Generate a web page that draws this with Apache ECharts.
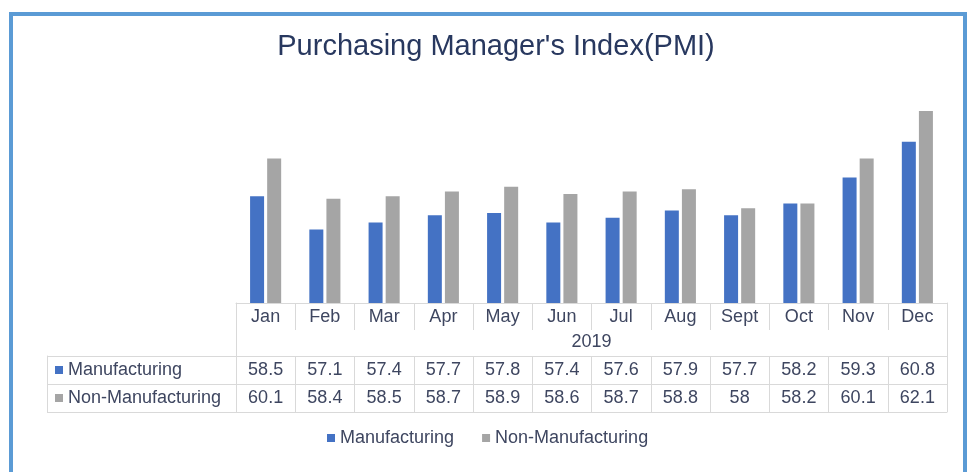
<!DOCTYPE html>
<html>
<head>
<meta charset="utf-8">
<title>Purchasing Manager's Index(PMI)</title>
<script src="https://cdn.jsdelivr.net/npm/echarts@6/dist/echarts.min.js"></script>
<style>
  html, body { margin: 0; padding: 0; background: #fff; }
  #chart { position: absolute; left: 0; top: 0; width: 971px; height: 472px; }
  #frame { position: absolute; left: 9px; top: 12px; width: 950px; height: 500px;
           border: 4px solid #5b9bd5; pointer-events: none; }
</style>
</head>
<body>
<div id="chart"></div>
<div id="frame"></div>
<script>
const months = ['Jan', 'Feb', 'Mar', 'Apr', 'May', 'Jun', 'Jul', 'Aug', 'Sept', 'Oct', 'Nov', 'Dec'];
const year = '2019';
const manufacturing = [58.5, 57.1, 57.4, 57.7, 57.8, 57.4, 57.6, 57.9, 57.7, 58.2, 59.3, 60.8];
const nonManufacturing = [60.1, 58.4, 58.5, 58.7, 58.9, 58.6, 58.7, 58.8, 58, 58.2, 60.1, 62.1];
const seriesNames = ['Manufacturing', 'Non-Manufacturing'];
const colors = ['#4472c4', '#a5a5a5'];

const font = "'Liberation Sans', Arial, sans-serif";
const textColor = '#3e4660';
const lineColor = '#d9d9d9';
const fs = 18;
const line = { lineStyle: { color: lineColor, width: 1 } };

const chart = echarts.init(document.getElementById('chart'));

// table row under the bars: values shown as labels of extra category axes
function valueRow(values, offset, margin) {
  return {
    gridIndex: 0,
    type: 'category',
    data: months,
    position: 'bottom',
    offset: offset,
    axisLine: line,
    axisTick: { show: true, length: 28, ...line },
    axisLabel: {
      interval: 0, margin: margin, fontSize: fs, color: textColor,
      formatter: (v, i) => String(values[i])
    }
  };
}

const option = {
  textStyle: { fontFamily: font },
  color: colors,
  title: {
    text: "Purchasing Manager's Index(PMI)",
    left: 491,
    top: 27,
    textAlign: 'center',
    textStyle: { fontSize: 29, fontWeight: 'normal', color: '#28385f', fontFamily: font }
  },
  legend: {
    data: seriesNames,
    icon: 'rect',
    itemWidth: 8,
    itemHeight: 8,
    itemGap: 28,
    padding: 0,
    left: 327,
    top: 429,
    textStyle: { fontSize: fs, color: textColor }
  },
  grid: [
    { left: 236, right: 24, top: 66, bottom: 169 },   // bars
    { left: 47, right: 24, top: 356, bottom: 60 },    // series label column + row lines
    { left: 236, right: 24, top: 303, bottom: 60 }    // outer vertical lines of table
  ],
  xAxis: [
    {
      gridIndex: 0,
      type: 'category',
      data: months,
      position: 'bottom',
      axisLine: line,
      axisTick: { show: true, length: 27, ...line },
      axisLabel: { interval: 0, margin: 5, fontSize: fs, color: textColor },
      name: year,
      nameLocation: 'middle',
      nameGap: 30,
      nameTextStyle: { fontSize: fs, color: textColor }
    },
    valueRow(manufacturing, 53, 5),
    valueRow(nonManufacturing, 81, 5),
    { gridIndex: 1, type: 'value', min: 0, max: 1, show: false },
    { gridIndex: 2, type: 'value', min: 0, max: 1, show: false }
  ],
  yAxis: [
    { gridIndex: 0, type: 'value', min: 54, max: 64, show: false },
    {
      gridIndex: 1,
      type: 'category',
      data: seriesNames,
      inverse: true,
      position: 'left',
      axisLine: { show: true, ...line },
      axisTick: { show: true, inside: true, length: 900, ...line },
      axisLabel: {
        align: 'left',
        margin: -8,
        fontSize: fs,
        color: textColor,
        formatter: (v, i) => '{m' + i + '|}{t|' + v + '}',
        rich: {
          m0: { width: 8, height: 8, backgroundColor: colors[0] },
          m1: { width: 8, height: 8, backgroundColor: colors[1] },
          t: { fontSize: fs, color: textColor, padding: [0, 0, 0, 5] }
        }
      },
      splitLine: { show: false }
    },
    {
      gridIndex: 2, type: 'value', min: 0, max: 1, position: 'left',
      axisLine: { show: true, ...line }, axisTick: { show: false },
      axisLabel: { show: false }, splitLine: { show: false }
    },
    {
      gridIndex: 2, type: 'value', min: 0, max: 1, position: 'right',
      axisLine: { show: true, ...line }, axisTick: { show: false },
      axisLabel: { show: false }, splitLine: { show: false }
    }
  ],
  series: [
    {
      name: seriesNames[0],
      type: 'bar',
      xAxisIndex: 0,
      yAxisIndex: 0,
      data: manufacturing,
      barWidth: 14,
      barGap: '22%'
    },
    {
      name: seriesNames[1],
      type: 'bar',
      xAxisIndex: 0,
      yAxisIndex: 0,
      data: nonManufacturing,
      barWidth: 14,
      barGap: '22%'
    }
  ]
};

chart.setOption(option);
</script>
</body>
</html>
